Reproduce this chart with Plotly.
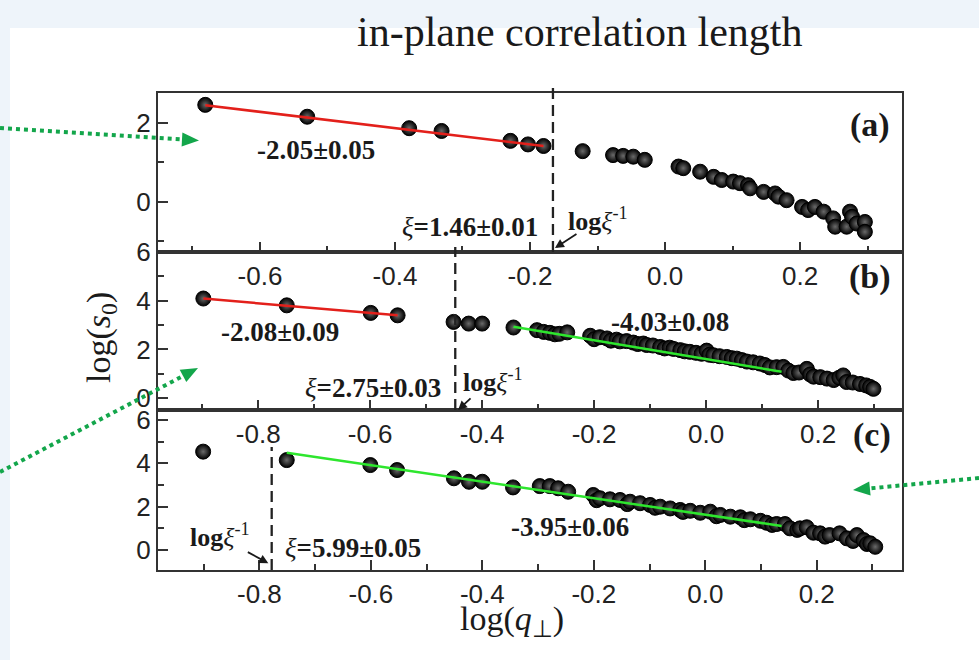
import plotly.graph_objects as go

# ---------------- data ----------------
# panel (a)
a_x = [-0.681, -0.530, -0.379, -0.331, -0.229, -0.203, -0.180, -0.122, -0.077, -0.062,
       -0.047, -0.030, 0.020, 0.027, 0.052, 0.072, 0.084, 0.101, 0.111, 0.123,
       0.126, 0.146, 0.163, 0.168, 0.180, 0.203, 0.212, 0.222, 0.235, 0.249,
       0.252, 0.269, 0.274, 0.277, 0.284, 0.296, 0.296]
a_y = [2.45, 2.15, 1.86, 1.79, 1.54, 1.45, 1.41, 1.28, 1.18, 1.16,
       1.14, 1.06, 0.89, 0.85, 0.76, 0.63, 0.55, 0.51, 0.47, 0.42,
       0.34, 0.25, 0.21, 0.13, 0.04, -0.13, -0.21, -0.13, -0.25, -0.42,
       -0.63, -0.63, -0.25, -0.38, -0.55, -0.51, -0.76]
fit_a_x = [-0.681, -0.180]
fit_a_y = [2.44, 1.41]

# panel (b)
b_x = [-0.898, -0.749, -0.599, -0.551, -0.451, -0.424, -0.400,
       -0.344, -0.302, -0.290, -0.279, -0.270, -0.262, -0.248,
       -0.207, -0.200, -0.190, -0.177, -0.170, -0.160, -0.154, -0.142, -0.130, -0.122,
       -0.112, -0.106, -0.095, -0.082, -0.074, -0.065, -0.058, -0.046, -0.038, -0.029,
       -0.018, -0.008, 0.001, 0.006, 0.013, 0.024, 0.037, 0.046, 0.055, 0.064,
       0.073, 0.084, 0.096, 0.105, 0.114, 0.126, 0.138, 0.147, 0.156, 0.166,
       0.180, 0.186, 0.192, 0.204, 0.216, 0.228, 0.238, 0.245, 0.251, 0.262,
       0.275, 0.286, 0.293, 0.299]
b_y = [4.09, 3.81, 3.50, 3.40, 3.13, 3.06, 3.06,
       2.90, 2.79, 2.72, 2.68, 2.62, 2.64, 2.70,
       2.56, 2.42, 2.50, 2.45, 2.36, 2.40, 2.33, 2.34, 2.28, 2.22,
       2.24, 2.18, 2.16, 2.10, 2.04, 2.07, 2.02, 1.97, 1.92, 1.90,
       1.86, 1.82, 1.95, 1.78, 1.76, 1.72, 1.69, 1.64, 1.62, 1.56,
       1.50, 1.47, 1.42, 1.36, 1.26, 1.27, 1.28, 1.13, 1.03, 1.05,
       1.20, 0.97, 0.88, 0.86, 0.80, 0.74, 0.84, 0.93, 0.66, 0.64,
       0.58, 0.52, 0.46, 0.38]
fit_b1_x = [-0.898, -0.551]
fit_b1_y = [4.09, 3.40]
fit_b2_x = [-0.344, 0.135]
fit_b2_y = [2.93, 1.08]

# panel (c)
c_x = [-0.901, -0.751, -0.601, -0.553, -0.451, -0.424, -0.400,
       -0.345, -0.297, -0.279, -0.264, -0.246,
       -0.201, -0.195, -0.189, -0.171, -0.153, -0.140, -0.135, -0.117, -0.099, -0.090,
       -0.081, -0.063, -0.045, -0.040, -0.027, -0.009, 0.009, 0.020, 0.027, 0.045,
       0.063, 0.070, 0.081, 0.099, 0.110, 0.120, 0.128, 0.143, 0.152, 0.165,
       0.170, 0.182, 0.194, 0.206, 0.215, 0.223, 0.241, 0.254, 0.265, 0.272,
       0.284, 0.290, 0.296, 0.305]
c_y = [4.54, 4.15, 3.92, 3.69, 3.31, 3.15, 3.15,
       2.89, 2.95, 2.95, 2.85, 2.69,
       2.54, 2.30, 2.39, 2.34, 2.31, 2.12, 2.23, 2.16, 2.08, 1.95,
       2.00, 1.92, 1.85, 1.76, 1.81, 1.72, 1.77, 1.56, 1.62, 1.54,
       1.51, 1.38, 1.42, 1.35, 1.26, 1.16, 1.20, 1.20, 1.00, 0.93,
       1.00, 1.05, 0.80, 0.77, 0.62, 0.69, 0.77, 0.54, 0.42, 0.69,
       0.46, 0.28, 0.31, 0.15]
fit_c_x = [-0.751, 0.137]
fit_c_y = [4.49, 1.11]

# vertical dashed markers (log xi^-1)
xi_line_x = [-0.166, -0.448, -0.778]

# tick labels
x_tickvals = [-0.8, -0.6, -0.4, -0.2, 0.0, 0.2]
x_ticktext = ["-0.8", "-0.6", "-0.4", "-0.2", "0.0", "0.2"]
x_minorvals = [-0.9, -0.7, -0.5, -0.3, -0.1, 0.1, 0.3]
y_tickvals = [0, 2, 4, 6]
y_ticktext = ["0", "2", "4", "6"]
y_minorvals = [-1, 1, 3, 5]

# ---------------- figure ----------------
W, H = 979, 660
def px(x): return x / W
def py(y): return 1 - y / H

serif = "Liberation Serif"
sans = "Liberation Sans"
ink = "#1a1a1a"
red = "#e3201b"
green = "#2ee62e"
arrow_green = "#13a64b"

fig = go.Figure()

marker = dict(size=15, color="#000000",
              gradient=dict(type="radial", color="#6a6a6a"),
              line=dict(color="#000000", width=1))

panels = [
    ("x", "y", a_x, a_y),
    ("x2", "y2", b_x, b_y),
    ("x3", "y3", c_x, c_y),
]
for xr, yr, xs, ys in panels:
    fig.add_trace(go.Scatter(x=xs, y=ys, mode="markers", marker=marker,
                             xaxis=xr, yaxis=yr, hoverinfo="skip"))

fits = [
    ("x", "y", fit_a_x, fit_a_y, red),
    ("x2", "y2", fit_b1_x, fit_b1_y, red),
    ("x2", "y2", fit_b2_x, fit_b2_y, green),
    ("x3", "y3", fit_c_x, fit_c_y, green),
]
for xr, yr, xs, ys, col in fits:
    fig.add_trace(go.Scatter(x=xs, y=ys, mode="lines", line=dict(color=col, width=2.5),
                             xaxis=xr, yaxis=yr, hoverinfo="skip"))

xdom = [px(158), px(902)]
ydoms = [[py(252), py(93)], [py(410), py(252)], [py(570), py(410)]]
xranges = [[-0.751, 0.351], [-0.979, 0.350], [-0.982, 0.353]]
yranges = [[-1.27, 2.75], [-0.49, 6.002], [-0.92, 6.46]]

tickfont = dict(family=sans, size=26, color="#222222")
axis_common = dict(showline=True, linecolor="#333333", linewidth=2, mirror=True,
                   ticks="inside", ticklen=10, tickwidth=1.5, tickcolor="#333333",
                   showgrid=False, zeroline=False, automargin=False,
                   tickfont=tickfont)

layout = dict(template="none", width=W, height=H,
              font=dict(family=sans, size=26, color="#222222"),
              margin=dict(l=0, r=0, t=0, b=0, autoexpand=False),
              paper_bgcolor="#eef4fa", plot_bgcolor="rgba(0,0,0,0)",
              showlegend=False)
names = ["", "2", "3"]
for i, n in enumerate(names):
    layout["xaxis" + n] = dict(axis_common, domain=xdom, range=xranges[i],
                               anchor="y" + n, tickmode="array",
                               tickvals=x_tickvals, ticktext=x_ticktext,
                               minor=dict(tickmode="array", tickvals=x_minorvals,
                                          ticks="inside", ticklen=6, tickcolor="#333333",
                                          tickwidth=1.5))
    layout["yaxis" + n] = dict(axis_common, domain=ydoms[i], range=yranges[i],
                               anchor="x" + n, tickmode="array",
                               tickvals=y_tickvals, ticktext=y_ticktext,
                               minor=dict(tickmode="array", tickvals=y_minorvals,
                                          ticks="inside", ticklen=6, tickcolor="#333333",
                                          tickwidth=1.5))
fig.update_layout(**layout)

shapes = []
# page background: white area
shapes.append(dict(type="rect", xref="paper", yref="paper", x0=px(10), x1=1, y0=0, y1=py(28),
                   fillcolor="white", line=dict(width=0), layer="below"))
# dashed vertical lines
dash_tops = [py(88), py(247), py(447)]
dash_bots = [py(252), py(410), py(570)]
for i, n in enumerate(["x", "x2", "x3"]):
    shapes.append(dict(type="line", xref=n, yref="paper", x0=xi_line_x[i], x1=xi_line_x[i],
                       y0=dash_bots[i], y1=dash_tops[i],
                       line=dict(color="#222222", width=2.3, dash="11px,6px")))
# green dotted decorative arrows
def garrow(x0, y0, bx, by, tip, b1, b2):
    shapes.append(dict(type="line", xref="paper", yref="paper",
                       x0=px(x0), y0=py(y0), x1=px(bx), y1=py(by),
                       line=dict(color=arrow_green, width=4, dash="4px,4px")))
    path = "M {} {} L {} {} L {} {} Z".format(px(tip[0]), py(tip[1]), px(b1[0]), py(b1[1]),
                                             px(b2[0]), py(b2[1]))
    shapes.append(dict(type="path", xref="paper", yref="paper", path=path,
                       fillcolor=arrow_green, line=dict(width=0)))
garrow(0, 128, 182, 139.4, (199, 140.5), (182.4, 132.4), (181.6, 146.4))
garrow(0, 472, 183, 376, (198, 368), (186.3, 382.1), (179.7, 369.7))
garrow(979, 478, 870, 488.4, (853, 490), (869.2, 481.4), (870.6, 495.4))
fig.update_layout(shapes=shapes)

ann = []
def txt(x, y, t, xref, yref, size=26, xanchor="center", family=serif):
    ann.append(dict(x=x, y=y, xref=xref, yref=yref, text=t, showarrow=False,
                    xanchor=xanchor, yanchor="middle",
                    font=dict(family=family, size=size, color=ink)))

def arr(x, y, ax, ay, xref, yref):
    ann.append(dict(x=x, y=y, xref=xref, yref=yref, text="", showarrow=True,
                    ax=ax, ay=ay, arrowhead=2, arrowsize=1, arrowwidth=1.8,
                    arrowcolor=ink))

# title
txt(px(580), py(32), "in-plane correlation length", "paper", "paper", size=42)
# panel a
txt(-0.517, 1.31, "<b>-2.05±0.05</b>", "x", "y", size=27)
txt(-0.185, -0.63, "<i>ξ</i><b>=1.46±0.01</b>", "x", "y", size=27, xanchor="right")
txt(-0.146, -0.45, "<b>log</b><i>ξ</i><sup>-1</sup>", "x", "y", size=26, xanchor="left")
arr(-0.163, -1.17, 23, -15, "x", "y")
txt(0.304, 1.94, "<b>(a)</b>", "x", "y", size=34)
# panel b
txt(-0.761, 2.72, "<b>-2.08±0.09</b>", "x2", "y2", size=27)
txt(-0.470, 0.41, "<i>ξ</i><b>=2.75±0.03</b>", "x2", "y2", size=27, xanchor="right")
txt(-0.437, 0.72, "<b>log</b><i>ξ</i><sup>-1</sup>", "x2", "y2", size=26, xanchor="left")
arr(-0.443, -0.49, 14, -13, "x2", "y2")
txt(0.293, 4.98, "<b>(b)</b>", "x2", "y2", size=34)
txt(-0.064, 3.13, "<b>-4.03±0.08</b>", "x2", "y2", size=27)
# panel c
txt(-0.928, 0.68, "<b>log</b><i>ξ</i><sup>-1</sup>", "x3", "y3", size=26, xanchor="left")
arr(-0.784, -0.61, -22, -12, "x3", "y3")
txt(-0.757, 0.08, "<i>ξ</i><b>=5.99±0.05</b>", "x3", "y3", size=27, xanchor="left")
txt(-0.243, 1.08, "<b>-3.95±0.06</b>", "x3", "y3", size=27)
txt(0.299, 5.31, "<b>(c)</b>", "x3", "y3", size=34)
# axis titles
ann.append(dict(x=px(78), y=py(338), xref="paper", yref="paper", showarrow=False,
                text="log(<i>s</i><sub>0</sub>)", textangle=-90,
                font=dict(family=serif, size=34, color=ink)))
ann.append(dict(x=px(512), y=py(644), xref="paper", yref="paper", showarrow=False,
                text="log(<i>q</i><sub>⊥</sub>)",
                font=dict(family=serif, size=34, color=ink)))
fig.update_layout(annotations=ann)

fig.write_html("out.html")
